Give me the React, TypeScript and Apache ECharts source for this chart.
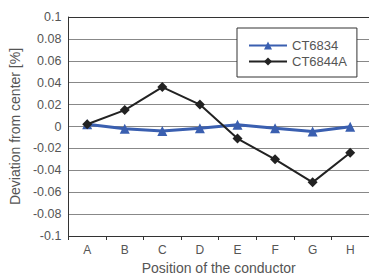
import React, { useEffect, useRef } from "react";
import * as echarts from "echarts";

const categories = ["A", "B", "C", "D", "E", "F", "G", "H"];
const ct6834 = [0.002, -0.002, -0.004, -0.0015, 0.0015, -0.0015, -0.0045, -0.0002];
const ct6844a = [0.002, 0.015, 0.036, 0.02, -0.011, -0.03, -0.051, -0.024];
const yTicks = [-0.1, -0.08, -0.06, -0.04, -0.02, 0, 0.02, 0.04, 0.06, 0.08, 0.1];

export default function App() {
  const ref = useRef<HTMLDivElement>(null);
  useEffect(() => {
    if (!ref.current) return;
    const chart = echarts.init(ref.current, null, { renderer: "svg" });
    const font = "Liberation Sans";
    chart.setOption({
      animation: false,
      backgroundColor: "#ffffff",
      textStyle: { fontFamily: font },
      grid: { left: 66, width: 308, top: 17, bottom: 37, show: false },
      legend: {
        orient: "vertical",
        left: 237,
        top: 28,
        backgroundColor: "#ffffff",
        borderColor: "#333333",
        borderWidth: 1,
        padding: [10, 10, 8, 11],
        itemWidth: 38,
        itemHeight: 10,
        itemGap: 1,
        textStyle: { fontFamily: font, fontSize: 13, lineHeight: 15, color: "#555555" },
        data: ["CT6834", "CT6844A"],
      },
      xAxis: {
        type: "category",
        data: categories,
        boundaryGap: true,
        name: "Position of the conductor",
        nameLocation: "middle",
        nameGap: 25,
        nameTextStyle: { fontFamily: font, fontSize: 14, color: "#555555" },
        axisLine: { onZero: false, lineStyle: { color: "#333333", width: 1 } },
        axisTick: { show: true, length: 4, lineStyle: { color: "#333333" } },
        axisLabel: { fontFamily: font, fontSize: 12, color: "#555555", margin: 8 },
        splitLine: { show: false },
      },
      yAxis: {
        type: "value",
        min: -0.1,
        max: 0.1,
        interval: 0.02,
        name: "Deviation from center [%]",
        nameLocation: "middle",
        nameGap: 41,
        nameTextStyle: { fontFamily: font, fontSize: 14, color: "#555555" },
        axisLine: { show: true, lineStyle: { color: "#333333", width: 1 } },
        axisTick: { show: false },
        axisLabel: {
          fontFamily: font,
          fontSize: 12.5,
          color: "#555555",
          margin: 7,
          formatter: (v: number) => {
            const t = yTicks.find((x) => Math.abs(x - v) < 1e-9);
            const val = t !== undefined ? t : v;
            return String(Math.round(val * 100) / 100);
          },
        },
        splitLine: { show: true, lineStyle: { color: "#888888", width: 1 } },
      },
      series: [
        {
          name: "CT6834",
          type: "line",
          data: ct6834,
          symbol: "triangle",
          symbolSize: 10,
          z: 3,
          lineStyle: { color: "#3a5fb0", width: 3 },
          itemStyle: { color: "#3a5fb0" },
        },
        {
          name: "CT6844A",
          type: "line",
          data: ct6844a,
          symbol: "diamond",
          symbolSize: 10,
          z: 4,
          lineStyle: { color: "#222222", width: 2 },
          itemStyle: { color: "#222222" },
        },
        {
          name: "top",
          type: "line",
          data: [],
          markLine: {
            silent: true,
            symbol: "none",
            label: { show: false },
            lineStyle: { color: "#333333", width: 1, type: "solid" },
            data: [{ yAxis: 0.1 }],
          },
        },
      ],
    });
    return () => chart.dispose();
  }, []);
  return (
    <div
      ref={ref}
      style={{ position: "fixed", left: 0, top: 0, width: 369, height: 280 }}
    />
  );
}
